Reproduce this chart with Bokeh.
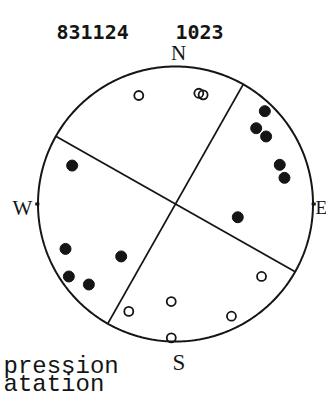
import numpy as np
from bokeh.plotting import figure
from bokeh.models import Range1d
from bokeh.core.properties import value
from bokeh.embed import file_html
from bokeh.resources import INLINE

# ---- data ----
event_date = "831124"
event_time = "1023"
direction_labels = ["N", "E", "S", "W"]
legend_labels = ["pression", "atation"]

# nodal planes (strike azimuths, degrees from north, vertical planes)
nodal_strikes = [119.5, 29.5]

# compressions (filled): azimuth (deg), radial distance (fraction of radius)
comp_az = [43.9, 46.8, 53.3, 69.4, 76.5, 102.0, 290.4, 247.8, 226.0, 235.8, 227.1]
comp_r = [0.937, 0.805, 0.822, 0.810, 0.815, 0.463, 0.802, 0.864, 0.549, 0.938, 0.860]

# dilatations (open): azimuth (deg), radial distance
dil_az = [341.3, 11.9, 14.2, 130.1, 182.5, 203.5, 153.5, 181.8]
dil_r = [0.833, 0.823, 0.819, 0.818, 0.710, 0.852, 0.912, 0.974]

# ---- layout (pixel geometry) ----
W, H = 326, 399
CX, CY, R = 175.0, 203.5, 137.5  # pixels of circle centre and radius


def px2x(px):
    return (px - CX) / R


def py2y(py):
    return (CY - py) / R


p = figure(width=W, height=H, output_backend="svg", toolbar_location=None,
           x_range=Range1d(px2x(0), px2x(W)),
           y_range=Range1d(py2y(H), py2y(0)),
           min_border=0, outline_line_color=None)
p.axis.visible = False
p.grid.visible = False
p.background_fill_color = "white"
p.border_fill_color = "white"

ink = "#151515"

# outer circle
t = np.linspace(0, 2 * np.pi, 361)
p.line(np.cos(t), np.sin(t), line_color=ink, line_width=2.0)

# small ticks at E and W
for az in (90, 270):
    a = np.radians(az)
    p.line([0.99 * np.sin(a), 1.02 * np.sin(a)], [0.99 * np.cos(a), 1.02 * np.cos(a)],
           line_color=ink, line_width=3)

# nodal planes as diameters
for s in nodal_strikes:
    a = np.radians(s)
    p.line([-np.sin(a), np.sin(a)], [-np.cos(a), np.cos(a)], line_color=ink, line_width=1.8)

# polarities
ca = np.radians(comp_az)
p.scatter(np.array(comp_r) * np.sin(ca), np.array(comp_r) * np.cos(ca),
          size=11, marker="circle", fill_color=ink, line_color=ink)
da = np.radians(dil_az)
p.scatter(np.array(dil_r) * np.sin(da), np.array(dil_r) * np.cos(da),
          size=9, marker="circle", fill_alpha=0, line_color=ink, line_width=1.8)

# header
p.text([px2x(56)], [py2y(31.5)], text=[event_date], text_font=value("DejaVu Sans Mono"),
       text_font_style="bold", text_font_size="20px", text_color=ink,
       text_baseline="alphabetic", text_align="left")
p.text([px2x(175)], [py2y(31.5)], text=[event_time], text_font=value("DejaVu Sans Mono"),
       text_font_style="bold", text_font_size="20px", text_color=ink,
       text_baseline="alphabetic", text_align="left")

# compass labels
lab_x = [px2x(178), px2x(315), px2x(178.5), px2x(12)]
lab_y = [py2y(52), py2y(207), py2y(362), py2y(207)]
lab_align = ["center", "left", "center", "left"]
lab_size = ["21px", "19px", "23px", "21px"]
for lx, ly, lt, la, ls in zip(lab_x, lab_y, direction_labels, lab_align, lab_size):
    p.text([lx], [ly], text=[lt], text_font=value("Liberation Serif"), text_font_size=ls,
           text_color=ink, text_baseline="alphabetic", text_align=la)

# legend words (kept fully inside the canvas)
p.text([px2x(3)], [py2y(366)], text=[legend_labels[0]], text_font=value("Liberation Mono"),
       text_font_size="24px", text_color=ink, text_baseline="alphabetic", text_align="left")
p.text([px2x(3)], [py2y(384)], text=[legend_labels[1]], text_font=value("Liberation Mono"),
       text_font_size="24px", text_color=ink, text_baseline="alphabetic", text_align="left")

open("out.html", "w").write(file_html(p, INLINE))
